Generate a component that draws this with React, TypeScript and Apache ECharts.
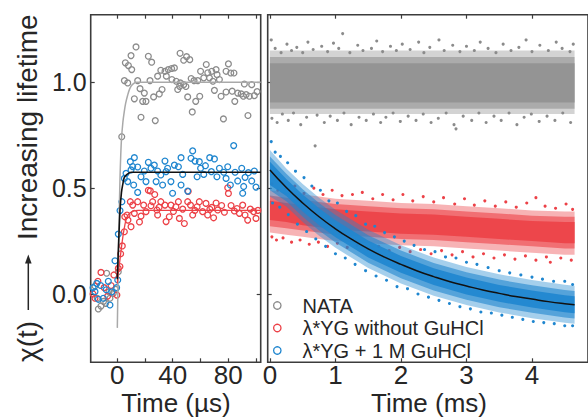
import React, { useEffect, useRef } from "react";
import * as echarts from "echarts";

// ---------- ticks / labels ----------
const usTicks = [0, 20, 40, 60, 80, 100];
const usLabels = [0, 40, 80];
const msTicks = [0, 1, 2, 3, 4];
const chiTicks = [0, 0.5, 1.0];
const legendNames = ["NATA", "λ*YG without GuHCl", "λ*YG + 1 M GuHCl"];
const xTitleFast = "Time (µs)";
const xTitleSlow = "Time (ms)";

// ---------- left panel: circles (time µs, chi) ----------
const nataFast: [number, number][] = [
  [-16.1, 0.038], [-14.5, -0.02], [-13.7, -0.071], [-11.8, -0.057], [-10, -0.035], [-8.4, -0.044], [-7.7, 0.098],
  [-6, 0.01], [-5.3, -0.02], [-2.9, 0.003], [-1.2, 0.022], [0.7, 0.105], [3.2, 0.743],
  [5.1, 1.008], [5.8, 1.092], [7.5, 0.997], [8.0, 1.079], [9.9, 1.126], [10.4, 1.06], [12.3, 0.922], [13.5, 1.167],
  [14.7, 1.008], [16.4, 0.97], [17.1, 0.835], [18.3, 0.91], [19.5, 0.949], [20.7, 0.91], [22.4, 1.123], [23.6, 1.008],
  [24.8, 1.095], [26.2, 0.931], [27.4, 0.819], [29.1, 1.029], [30.3, 0.945], [31.4, 1.057], [32.3, 0.966], [34.4, 1.052],
  [35.4, 1.029], [36.8, 1.06], [39.2, 1.065], [39.4, 1.013], [41.2, 1.068], [42.5, 1.005], [43.6, 0.966], [45.0, 0.981],
  [45.3, 1.137], [45.5, 0.997], [47.9, 0.989], [47.9, 1.104], [49.5, 0.98], [50.0, 1.121], [50.8, 0.931], [52.3, 1.107],
  [53.3, 1.018], [54.1, 0.86], [55.4, 1.008], [56.6, 0.91], [58.1, 1.008], [59.5, 0.934], [60.1, 1.052], [62.4, 1.021],
  [64.2, 1.084], [65.3, 1.045], [66.5, 1.021], [68.2, 1.052], [69.0, 1.005], [70.1, 0.962], [71.3, 1.06], [72.0, 1.036],
  [73.7, 1.013], [74.9, 0.934], [76.6, 0.827], [78.5, 0.954], [78.5, 1.052], [80.2, 1.087], [81.9, 1.044], [82.9, 0.958],
  [84.2, 1.044], [84.8, 0.91], [86.9, 0.949], [89.4, 0.945], [91.0, 0.934], [91.7, 0.992], [93.0, 0.942], [94.3, 0.843],
  [95.3, 0.934], [97.0, 0.989], [98.9, 0.937], [100.9, 0.956],
];
const yg0Fast: [number, number][] = [
  [-17.5, 0.0], [-16.1, -0.02], [-14, 0.06], [-11.8, 0.102], [-9.5, 0.03], [-7, -0.01], [-4.5, 0.04], [-2.5, 0.09],
  [-0.3, -0.005], [0.7, 0.121], [1.9, 0.13], [2.4, 0.19], [3.6, 0.227], [5.1, 0.294], [5.4, 0.365],
  [7.0, 0.373], [7.7, 0.349], [9.4, 0.436], [9.9, 0.318], [11.1, 0.42], [12.3, 0.381], [14.7, 0.436], [16.0, 0.34],
  [17.1, 0.368], [19.0, 0.42], [20.7, 0.389], [22.4, 0.49], [23.8, 0.487], [24.3, 0.417], [25.5, 0.436], [27.0, 0.47],
  [28.6, 0.397], [29.1, 0.373], [30.2, 0.41], [31.4, 0.436], [34.4, 0.42], [35.2, 0.342], [37.5, 0.365], [38.7, 0.42],
  [40.5, 0.39], [42.3, 0.412], [44.1, 0.436], [44.8, 0.357], [47.2, 0.401], [48.4, 0.333], [50.8, 0.436], [51.2, 0.485],
  [52.8, 0.42], [54.4, 0.373], [56.0, 0.395], [57.6, 0.412], [59.2, 0.436], [61.6, 0.389], [64.0, 0.428], [65.2, 0.373],
  [66.8, 0.4], [68.2, 0.409], [69.5, 0.36], [71.3, 0.43], [72.5, 0.397], [75.3, 0.418], [77.3, 0.386], [79.7, 0.502],
  [80.2, 0.475], [82.1, 0.418], [84.5, 0.392], [86.4, 0.404], [88.1, 0.381], [90.5, 0.42], [92.2, 0.373], [94.1, 0.349],
  [96.0, 0.401], [98.4, 0.389], [100.1, 0.357], [101.5, 0.395],
];
const yg1Fast: [number, number][] = [
  [-17.5, 0.03], [-16.1, 0.011], [-14.8, 0.05], [-13.7, -0.025], [-12, 0.04], [-10.1, -0.02], [-8, 0.02], [-6.5, 0.06],
  [-5.3, -0.052], [-4, 0.01], [-1.7, 0.157], [-0.5, 0.03], [0.3, 0.066], [0.7, 0.283], [1.95, 0.394], [3.3, 0.436],
  [5.1, 0.546], [6.3, 0.57], [7.5, 0.531], [9.4, 0.625], [9.9, 0.586], [11.1, 0.602], [11.8, 0.515], [12.3, 0.644],
  [14.7, 0.48], [14.7, 0.6], [17.1, 0.554], [19.5, 0.581], [20.7, 0.531], [22.4, 0.622], [24.3, 0.594], [26.7, 0.609],
  [28.0, 0.531], [29.1, 0.581], [31.4, 0.562], [32.7, 0.515], [34.4, 0.628], [35.2, 0.578], [36.3, 0.594], [38.7, 0.531],
  [39.9, 0.476], [41.2, 0.609], [44.1, 0.601], [46.0, 0.644], [46.0, 0.515], [47.2, 0.565], [50.8, 0.486], [53.2, 0.641],
  [54.4, 0.676], [56.1, 0.628], [57.6, 0.554], [59.2, 0.625], [60.1, 0.594], [62.4, 0.565], [63.6, 0.606], [66.7, 0.644],
  [67.9, 0.578], [70.1, 0.638], [71.9, 0.554], [73.7, 0.594], [76.8, 0.575], [78.5, 0.546], [79.7, 0.601], [81.6, 0.515],
  [84.0, 0.701], [85.0, 0.575], [86.9, 0.534], [89.8, 0.594], [90.5, 0.476], [91.2, 0.508], [92.2, 0.551], [94.6, 0.573],
  [97.0, 0.534], [98.9, 0.581], [100.1, 0.505],
];

// ---------- left panel: fit curves ----------
const nataFitFast: [number, number][] = [
  [0, -0.16], [0.5, 0.05], [1, 0.25], [1.5, 0.42], [2, 0.56], [2.5, 0.66], [3, 0.73], [4, 0.81], [5, 0.86], [6, 0.9],
  [7.5, 0.94], [9, 0.97], [11, 0.99], [14, 1.0], [103.5, 1.0],
];
const yg0FitFast: [number, number][] = [
  [0, 0.05], [0.7, 0.1], [1.5, 0.14], [3, 0.22], [4, 0.27], [5, 0.31], [6.3, 0.35], [8, 0.375], [11, 0.39], [15, 0.395],
  [103.5, 0.395],
];
const yg1FitFast: [number, number][] = [
  [0, 0.07], [1, 0.25], [2, 0.4], [3, 0.48], [4, 0.52], [5, 0.55], [7, 0.565], [10, 0.575], [103.5, 0.575],
];

// ---------- right panel: dense bands (time ms); outer / middle / core edges ----------
const bandT = [0, 0.25, 0.5, 0.75, 1, 1.5, 2, 2.5, 3, 3.5, 4, 4.5, 4.65];
const nataOuterHi = [1.15, 1.15, 1.15, 1.15, 1.15, 1.15, 1.15, 1.15, 1.15, 1.15, 1.15, 1.15, 1.15];
const nataMidHi = [1.12, 1.12, 1.12, 1.12, 1.12, 1.12, 1.12, 1.12, 1.12, 1.12, 1.12, 1.12, 1.12];
const nataCoreHi = [1.09, 1.09, 1.09, 1.09, 1.09, 1.09, 1.09, 1.09, 1.09, 1.09, 1.09, 1.09, 1.09];
const nataCoreLo = [0.905, 0.905, 0.905, 0.905, 0.905, 0.905, 0.905, 0.905, 0.905, 0.905, 0.905, 0.905, 0.905];
const nataMidLo = [0.875, 0.875, 0.875, 0.875, 0.875, 0.875, 0.875, 0.875, 0.875, 0.875, 0.875, 0.875, 0.875];
const nataOuterLo = [0.85, 0.85, 0.85, 0.85, 0.85, 0.85, 0.85, 0.85, 0.85, 0.85, 0.85, 0.85, 0.85];

const yg0OuterHi = [0.49, 0.48, 0.47, 0.46, 0.45, 0.44, 0.43, 0.425, 0.415, 0.405, 0.395, 0.39, 0.39];
const yg0MidHi = [0.465, 0.455, 0.445, 0.435, 0.425, 0.415, 0.405, 0.4, 0.39, 0.38, 0.37, 0.365, 0.365];
const yg0CoreHi = [0.44, 0.43, 0.42, 0.41, 0.4, 0.39, 0.38, 0.375, 0.365, 0.355, 0.345, 0.34, 0.34];
const yg0CoreLo = [0.35, 0.34, 0.325, 0.315, 0.305, 0.295, 0.285, 0.28, 0.27, 0.26, 0.25, 0.24, 0.24];
const yg0MidLo = [0.32, 0.31, 0.3, 0.29, 0.28, 0.27, 0.26, 0.255, 0.245, 0.235, 0.225, 0.215, 0.215];
const yg0OuterLo = [0.29, 0.28, 0.27, 0.26, 0.25, 0.24, 0.23, 0.225, 0.215, 0.205, 0.195, 0.185, 0.185];

const yg1OuterHi = [0.68, 0.593, 0.52, 0.455, 0.398, 0.303, 0.23, 0.172, 0.128, 0.093, 0.066, 0.044, 0.039];
const yg1MidHi = [0.65, 0.568, 0.495, 0.43, 0.373, 0.278, 0.205, 0.147, 0.103, 0.068, 0.041, 0.019, 0.014];
const yg1CoreHi = [0.625, 0.543, 0.47, 0.405, 0.348, 0.253, 0.18, 0.122, 0.078, 0.043, 0.016, -0.006, -0.011];
const yg1CoreLo = [0.515, 0.463, 0.39, 0.325, 0.268, 0.173, 0.1, 0.042, -0.002, -0.037, -0.064, -0.086, -0.091];
const yg1MidLo = [0.49, 0.438, 0.365, 0.3, 0.243, 0.148, 0.075, 0.017, -0.027, -0.062, -0.089, -0.111, -0.116];
const yg1OuterLo = [0.46, 0.413, 0.34, 0.275, 0.218, 0.123, 0.05, -0.008, -0.052, -0.087, -0.114, -0.136, -0.141];

// ---------- right panel: scattered points outside the dense bands ----------
const nataSlowDots: [number, number][] = [
  [0.02, 1.2], [0.08, 1.16], [0.17, 1.14], [0.26, 1.18], [0.33, 1.15], [0.41, 1.165], [0.5, 1.14], [0.58, 1.19],
  [0.66, 1.155], [0.79, 1.17], [0.88, 1.145], [0.97, 1.185], [1.05, 1.16], [1.11, 1.23], [1.22, 1.14], [1.34, 1.175],
  [1.42, 1.15], [1.55, 1.16], [1.63, 1.195], [1.72, 1.145], [1.84, 1.17], [1.93, 1.15], [2.02, 1.18], [2.14, 1.155],
  [2.27, 1.19], [2.35, 1.14], [2.44, 1.165], [2.58, 1.2], [2.66, 1.15], [2.79, 1.175], [2.9, 1.145], [3.0, 1.17],
  [3.12, 1.15], [3.21, 1.19], [3.33, 1.16], [3.45, 1.14], [3.56, 1.18], [3.68, 1.15], [3.8, 1.165], [3.91, 1.2],
  [4.0, 1.145], [4.12, 1.175], [4.25, 1.15], [4.37, 1.19], [4.46, 1.16], [4.58, 1.145], [4.63, 1.18],
  [0.03, 0.83], [0.11, 0.81], [0.19, 0.85], [0.28, 0.82], [0.36, 0.855], [0.47, 0.8], [0.56, 0.835], [0.69, 0.7],
  [0.72, 0.845], [0.83, 0.81], [0.92, 0.84], [1.03, 0.82], [1.13, 0.855], [1.24, 0.8], [1.36, 0.835], [1.47, 0.82],
  [1.58, 0.85], [1.69, 0.81], [1.77, 0.835], [1.88, 0.855], [1.99, 0.815], [2.11, 0.84], [2.23, 0.82], [2.34, 0.85],
  [2.46, 0.81], [2.57, 0.83], [2.69, 0.855], [2.81, 0.8], [2.84, 0.78], [2.95, 0.84], [3.08, 0.82], [3.19, 0.855],
  [3.3, 0.81], [3.42, 0.84], [3.53, 0.82], [3.65, 0.855], [3.77, 0.8], [3.88, 0.835], [3.99, 0.85], [4.11, 0.815],
  [4.23, 0.84], [4.35, 0.82], [4.47, 0.855], [4.59, 0.81],
];
const yg0SlowDots: [number, number][] = [
  [0.03, 0.52], [0.12, 0.49], [0.24, 0.5], [0.38, 0.51], [0.52, 0.475], [0.67, 0.5], [0.81, 0.47], [0.95, 0.49],
  [1.1, 0.465], [1.26, 0.47], [1.41, 0.48], [1.57, 0.45], [1.72, 0.47], [1.88, 0.445], [2.03, 0.47], [2.18, 0.44],
  [2.34, 0.46], [2.5, 0.435], [2.65, 0.455], [2.82, 0.425], [2.97, 0.45], [3.12, 0.42], [3.28, 0.44], [3.44, 0.415],
  [3.6, 0.435], [3.76, 0.41], [3.92, 0.43], [4.06, 0.455], [4.2, 0.415], [4.36, 0.405], [4.52, 0.425], [4.62, 0.4],
  [0.03, 0.27], [0.1, 0.255], [0.2, 0.265], [0.33, 0.245], [0.46, 0.255], [0.6, 0.235], [0.74, 0.245], [0.88, 0.225],
  [1.03, 0.24], [1.18, 0.22], [1.33, 0.23], [1.5, 0.21], [1.66, 0.225], [1.82, 0.205], [1.98, 0.22], [2.14, 0.2],
  [2.3, 0.21], [2.46, 0.19], [2.62, 0.205], [2.78, 0.185], [2.94, 0.2], [3.1, 0.175], [3.26, 0.19], [3.42, 0.17],
  [3.58, 0.185], [3.74, 0.165], [3.9, 0.18], [4.06, 0.16], [4.22, 0.175], [4.28, 0.15], [4.44, 0.17], [4.6, 0.16],
];
const yg1SlowDots: [number, number][] = [
  [0.02, 0.72], [0.08, 0.67], [0.16, 0.65], [0.27, 0.62], [0.39, 0.58], [0.52, 0.55], [0.64, 0.51], [0.77, 0.49],
  [0.9, 0.44], [1.03, 0.43], [1.17, 0.39], [1.31, 0.37], [1.46, 0.33], [1.6, 0.32], [1.75, 0.29], [1.9, 0.27],
  [2.05, 0.25], [2.2, 0.23], [2.36, 0.21], [2.52, 0.2], [2.68, 0.175], [2.84, 0.17], [3.0, 0.15], [3.16, 0.14],
  [3.33, 0.125], [3.5, 0.11], [3.66, 0.1], [3.83, 0.09], [4.0, 0.08], [4.16, 0.07], [4.33, 0.06], [4.5, 0.06],
  [4.62, 0.045],
  [0.04, 0.43], [0.15, 0.41], [0.28, 0.375], [0.42, 0.33], [0.56, 0.295], [0.7, 0.26], [0.85, 0.225], [1.0, 0.19],
  [1.15, 0.17], [1.3, 0.14], [1.46, 0.11], [1.62, 0.085], [1.78, 0.065], [1.94, 0.035], [2.1, 0.025], [2.26, 0.0],
  [2.42, -0.015], [2.58, -0.03], [2.74, -0.045], [2.9, -0.06], [3.06, -0.07], [3.22, -0.085], [3.38, -0.09],
  [3.54, -0.1], [3.7, -0.11], [3.86, -0.12], [4.02, -0.13], [4.18, -0.135], [4.34, -0.14], [4.5, -0.15],
  [4.62, -0.15],
];

// ---------- right panel: fit curve for λ*YG + 1 M GuHCl ----------
const fitT = [0, 0.25, 0.5, 0.75, 1, 1.25, 1.5, 1.75, 2, 2.25, 2.5, 2.75, 3, 3.25, 3.5, 3.75, 4, 4.25, 4.5, 4.65];
const yg1FitSlow = [0.586, 0.503, 0.43, 0.365, 0.308, 0.258, 0.213, 0.174, 0.14, 0.109, 0.082, 0.058, 0.038, 0.019,
  0.003, -0.012, -0.024, -0.036, -0.046, -0.051];

// ---------- styling ----------
const GRAY = "#8b8b8b";
const GRAY_BAND = "#919191";
const RED = "#ec4147";
const BLUE = "#1f86cf";
const TEXT = "#262626";
const FRAME = "#3c3c3c";
const FONT = "'Liberation Sans', Arial, Helvetica, sans-serif";

const Y_MIN = -0.3226;
const Y_MAX = 1.3193;

function bandSeries(lo: number[], hi: number[], color: string, opacity: number, z: number) {
  return {
    type: "custom", xAxisIndex: 2, yAxisIndex: 2, silent: true, z,
    data: [[bandT[0], lo[0]]],
    encode: { x: 0, y: 1 },
    renderItem: (_params: any, api: any) => {
      const top = bandT.map((t, i) => api.coord([t, hi[i]]));
      const bot = bandT.map((t, i) => api.coord([t, lo[i]])).reverse();
      return {
        type: "polygon",
        shape: { points: top.concat(bot) },
        style: { fill: color, opacity },
      };
    },
  };
}

function layeredBand(
  outerLo: number[], outerHi: number[], midLo: number[], midHi: number[], coreLo: number[], coreHi: number[],
  color: string, z: number,
) {
  return [
    bandSeries(outerLo, outerHi, color, 0.4, z),
    bandSeries(midLo, midHi, color, 0.6, z),
    bandSeries(coreLo, coreHi, color, 0.9, z),
  ];
}

function circles(data: [number, number][], color: string) {
  return {
    type: "scatter", xAxisIndex: 0, yAxisIndex: 0, data, symbol: "circle", symbolSize: 5.8,
    itemStyle: { color: "rgba(0,0,0,0)", borderColor: color, borderWidth: 1.3, opacity: 1 }, z: 3,
  };
}

function dots(data: [number, number][], color: string, z: number) {
  return {
    type: "scatter", xAxisIndex: 2, yAxisIndex: 2, data, symbol: "circle", symbolSize: 3.1,
    itemStyle: { color, opacity: 1 }, z,
  };
}

function fitLine(xi: number, data: [number, number][], color: string, width: number, z: number) {
  return {
    type: "line", xAxisIndex: xi, yAxisIndex: xi, data, symbol: "none", smooth: 0.3,
    lineStyle: { color, width }, z,
  };
}

const tickStyle = { color: FRAME, width: 1.2 };

export default function App() {
  const ref = useRef<HTMLDivElement>(null);
  useEffect(() => {
    if (!ref.current) return;
    const chart = echarts.init(ref.current, undefined, { renderer: "svg" });
    const gridBase = { show: true, borderColor: FRAME, borderWidth: 1.6, backgroundColor: "transparent", containLabel: false };
    const xAx = (grid: number, pos: string, min: number, max: number, ticks: number[], labels: number[] | null) => ({
      type: "value", gridIndex: grid, position: pos, min, max,
      axisLine: { show: false, onZero: false }, splitLine: { show: false },
      axisTick: { show: true, inside: true, length: 4, customValues: ticks, lineStyle: tickStyle },
      axisLabel: labels
        ? { show: true, customValues: labels, margin: 3, fontSize: 26, fontFamily: FONT, color: TEXT, lineHeight: 20 }
        : { show: false },
    });
    const yAx = (grid: number, pos: string, labels: boolean) => ({
      type: "value", gridIndex: grid, position: pos, min: Y_MIN, max: Y_MAX,
      axisLine: { show: false, onZero: false }, splitLine: { show: false },
      axisTick: { show: true, inside: true, length: 4, customValues: chiTicks, lineStyle: tickStyle },
      axisLabel: labels
        ? { show: true, customValues: chiTicks, margin: 4, fontSize: 25, fontFamily: FONT, color: TEXT,
            formatter: (v: number) => v.toFixed(1) }
        : { show: false },
    });

    const legendY = [305.5, 328, 350.5];
    const legendColors = [GRAY, RED, BLUE];
    const legendGraphics: any[] = [];
    legendNames.forEach((name, i) => {
      legendGraphics.push({
        type: "circle", shape: { cx: 277.3, cy: legendY[i], r: 3.7 }, z: 100,
        style: { fill: "none", stroke: legendColors[i], lineWidth: 1.3 },
      });
      legendGraphics.push({
        type: "text", x: 302.5, y: legendY[i], z: 100,
        style: { text: name, fill: TEXT, fontSize: 20, fontFamily: FONT, align: "left", verticalAlign: "middle" },
      });
    });

    chart.setOption({
      animation: false,
      backgroundColor: "#ffffff",
      grid: [
        { ...gridBase, left: 90.7, top: 14.7, width: 170, height: 347.6 },
        { ...gridBase, left: 267.7, top: 14.7, width: 330, height: 347.6 },
      ],
      xAxis: [
        xAx(0, "bottom", -19.21, 103.5, usTicks, usLabels),
        xAx(0, "top", -19.21, 103.5, usTicks, null),
        xAx(1, "bottom", -0.0341, 4.855, msTicks, msTicks),
        xAx(1, "top", -0.0341, 4.855, msTicks, null),
      ],
      yAxis: [
        yAx(0, "left", true),
        yAx(0, "right", false),
        yAx(1, "left", false),
      ],
      series: [
        // left panel
        circles(nataFast, GRAY),
        circles(yg0Fast, RED),
        circles(yg1Fast, BLUE),
        fitLine(0, nataFitFast, "#a9a9a9", 1.5, 5),
        fitLine(0, yg0FitFast, RED, 1.3, 5),
        fitLine(0, yg1FitFast, "#111111", 1.6, 6),
        // right panel
        ...layeredBand(nataOuterLo, nataOuterHi, nataMidLo, nataMidHi, nataCoreLo, nataCoreHi, GRAY_BAND, 2),
        dots(nataSlowDots, GRAY, 2),
        ...layeredBand(yg0OuterLo, yg0OuterHi, yg0MidLo, yg0MidHi, yg0CoreLo, yg0CoreHi, RED, 3),
        dots(yg0SlowDots, RED, 3),
        ...layeredBand(yg1OuterLo, yg1OuterHi, yg1MidLo, yg1MidHi, yg1CoreLo, yg1CoreHi, BLUE, 4),
        dots(yg1SlowDots, BLUE, 4),
        {
          type: "line", xAxisIndex: 2, yAxisIndex: 2, symbol: "none", smooth: true, z: 6,
          data: fitT.map((t, i) => [t, yg1FitSlow[i]]), lineStyle: { color: "#111111", width: 1.5 },
        },
      ],
      graphic: [
        // y-axis title, reading upward
        {
          type: "text", x: 27, y: 362, rotation: Math.PI / 2, z: 100,
          style: { text: "χ(t)", fill: TEXT, fontSize: 28, fontFamily: FONT, align: "left", verticalAlign: "middle" },
        },
        {
          type: "line", z: 100, shape: { x1: 28.3, y1: 310, x2: 28.3, y2: 262 },
          style: { stroke: TEXT, lineWidth: 1.5 },
        },
        {
          type: "polygon", z: 100, shape: { points: [[28.3, 254.5], [25, 263.5], [31.6, 263.5]] },
          style: { fill: TEXT },
        },
        {
          type: "text", x: 27, y: 240, rotation: Math.PI / 2, z: 100,
          style: { text: "Increasing lifetime", fill: TEXT, fontSize: 28, fontFamily: FONT, align: "left", verticalAlign: "middle" },
        },
        {
          type: "text", x: 176, y: 403, z: 100,
          style: { text: xTitleFast, fill: TEXT, fontSize: 26, fontFamily: FONT, align: "center", verticalAlign: "middle" },
        },
        {
          type: "text", x: 429, y: 403, z: 100,
          style: { text: xTitleSlow, fill: TEXT, fontSize: 26, fontFamily: FONT, align: "center", verticalAlign: "middle" },
        },
        ...legendGraphics,
      ],
    });
    return () => chart.dispose();
  }, []);
  return <div ref={ref} style={{ position: "absolute", left: 0, top: 0, width: 588, height: 418 }} />;
}
